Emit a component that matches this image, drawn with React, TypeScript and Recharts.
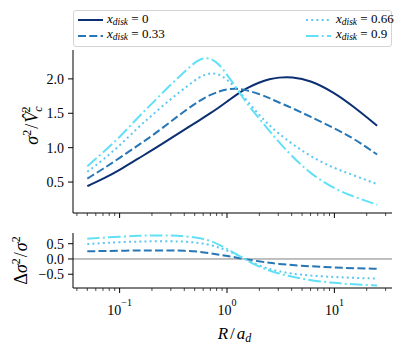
import React from "react";
import { LineChart, Line, XAxis, YAxis, ReferenceLine, Legend, Label } from "recharts";

// radius R/a_d where the curves were read
const R = [0.05, 0.07, 0.1, 0.15, 0.2, 0.3, 0.4, 0.55, 0.7, 0.85, 1.0, 1.25, 1.5, 2, 2.5, 3, 4, 6, 10, 15, 25];

// sigma^2 / Vc^2 for each disk fraction
const sigmaX0 = [0.44, 0.545, 0.675, 0.845, 0.96, 1.135, 1.26, 1.395, 1.5, 1.59, 1.67, 1.78, 1.86, 1.95, 2.0, 2.02, 2.03, 1.98, 1.8, 1.6, 1.32];
const sigmaX033 = [0.55, 0.69, 0.85, 1.04, 1.17, 1.38, 1.53, 1.68, 1.77, 1.82, 1.85, 1.86, 1.84, 1.78, 1.72, 1.66, 1.58, 1.45, 1.28, 1.14, 0.9];
const sigmaX066 = [0.65, 0.82, 1.03, 1.3, 1.47, 1.71, 1.86, 2.03, 2.09, 2.07, 1.99, 1.85, 1.7, 1.47, 1.32, 1.21, 1.06, 0.87, 0.7, 0.6, 0.47];
const sigmaX09 = [0.73, 0.93, 1.15, 1.45, 1.64, 1.92, 2.1, 2.3, 2.31, 2.21, 2.06, 1.85, 1.66, 1.42, 1.24, 1.09, 0.88, 0.62, 0.4, 0.29, 0.17];

// relative difference to x_disk = 0
const deltaX033 = [0.25, 0.26, 0.27, 0.28, 0.28, 0.28, 0.27, 0.24, 0.19, 0.14, 0.1, 0.04, -0.01, -0.08, -0.13, -0.16, -0.2, -0.24, -0.28, -0.3, -0.32];
const deltaX066 = [0.49, 0.52, 0.55, 0.57, 0.58, 0.58, 0.57, 0.53, 0.46, 0.37, 0.28, 0.13, 0.0, -0.23, -0.33, -0.4, -0.48, -0.55, -0.59, -0.62, -0.64];
const deltaX09 = [0.66, 0.7, 0.73, 0.76, 0.77, 0.77, 0.75, 0.69, 0.6, 0.46, 0.33, 0.14, -0.03, -0.26, -0.38, -0.47, -0.58, -0.7, -0.79, -0.83, -0.87];

const X_TICKS = [0.04, 0.05, 0.06, 0.07, 0.08, 0.09, 0.1, 0.2, 0.3, 0.4, 0.5, 0.6, 0.7, 0.8, 0.9, 1, 2, 3, 4, 5, 6, 7, 8, 9, 10, 20, 30];
const MAJOR_TICKS = [0.1, 1, 10];
const EXPONENTS = ["\u22121", "0", "1"];
const TOP_Y_TICKS = [0.5, 1.0, 1.5, 2.0];
const BOTTOM_Y_TICKS = [-0.5, 0.0, 0.5];
const LEGEND_VALUES = ["0", "0.33", "0.66", "0.9"];

const X_DOMAIN = [0.0368, 34.4];
const FONT = "Liberation Serif, DejaVu Serif, serif";

const SERIES = [
  { key: "x0", color: "#0b2f72", dash: undefined },
  { key: "x033", color: "#2776b5", dash: "8 3.3" },
  { key: "x066", color: "#5cc7f1", dash: "2 3.2" },
  { key: "x09", color: "#62e0f6", dash: "12.5 3.2 2 3.2" },
];

const topData = R.map((r, i) => ({
  r,
  x0: sigmaX0[i],
  x033: sigmaX033[i],
  x066: sigmaX066[i],
  x09: sigmaX09[i],
}));

const bottomData = R.map((r, i) => ({
  r,
  x033: deltaX033[i],
  x066: deltaX066[i],
  x09: deltaX09[i],
}));

const fmt = (v: number) => v.toFixed(1).replace("-", "\u2212");

function XTick(props: any) {
  const { x, y, payload, showLabel } = props;
  const idx = MAJOR_TICKS.indexOf(payload.value);
  const major = idx >= 0;
  return (
    <g>
      <line x1={x} x2={x} y1={y} y2={y + (major ? 5 : 3)} stroke="#000" strokeWidth={major ? 1 : 0.7} />
      {showLabel && major && (
        <text x={x} y={y + 27} textAnchor="middle" fontSize={14} fontFamily={FONT} fill="#000">
          10
          <tspan dy={-9} fontSize={10}>{EXPONENTS[idx]}</tspan>
        </text>
      )}
    </g>
  );
}

function YTick(props: any) {
  const { x, y, payload } = props;
  return (
    <g>
      <line x1={x - 5} x2={x} y1={y} y2={y} stroke="#000" strokeWidth={1} />
      <text x={x - 9} y={y} dy="0.35em" textAnchor="end" fontSize={14} fontFamily={FONT} fill="#000">
        {fmt(payload.value)}
      </text>
    </g>
  );
}

function LegendBox() {
  return (
    <div
      style={{
        width: 319,
        height: 37,
        boxSizing: "border-box",
        border: "1px solid #d4d4d4",
        borderRadius: 3,
        background: "rgba(255,255,255,0.85)",
        position: "relative",
        fontFamily: FONT,
        fontSize: 13,
        color: "#000",
      }}
    >
      {SERIES.map((s, i) => {
        const col = Math.floor(i / 2);
        const row = i % 2;
        const left = col === 0 ? 4 : 232;
        const top = row === 0 ? 9 : 24.5;
        return (
          <div key={s.key} style={{ position: "absolute", left, top: top - 8, height: 16, display: "flex", alignItems: "center" }}>
            <svg width={25} height={16}>
              <line x1={0} x2={25} y1={8} y2={8} stroke={s.color} strokeWidth={2} strokeDasharray={s.dash} />
            </svg>
            <span style={{ marginLeft: col === 0 ? 4 : 5, whiteSpace: "nowrap", lineHeight: "16px" }}>
              <i>x</i>
              <sub style={{ fontSize: 9.5, fontStyle: "italic", verticalAlign: "-2px" }}>disk</sub>
              {" = "}
              {LEGEND_VALUES[i]}
            </span>
          </div>
        );
      })}
    </div>
  );
}

export default function App() {
  return (
    <div style={{ position: "absolute", left: 0, top: 0, width: 407, height: 350, background: "#fff" }}>
      <div style={{ position: "absolute", left: 0, top: 0 }}>
        <LineChart width={407} height={235} data={topData} margin={{ top: 50, right: 15, bottom: 2, left: 0 }}>
          <XAxis
            dataKey="r"
            type="number"
            scale="log"
            domain={X_DOMAIN}
            allowDataOverflow
            ticks={X_TICKS}
            interval={0}
            tickSize={0}
            tickMargin={0}
            tickLine={false}
            height={20}
            axisLine={{ stroke: "#000", strokeWidth: 1 }}
            tick={<XTick showLabel={false} />}
          />
          <XAxis
            xAxisId="top"
            orientation="top"
            dataKey="r"
            type="number"
            scale="log"
            domain={X_DOMAIN}
            allowDataOverflow
            height={0}
            tick={false}
            tickLine={false}
            axisLine={{ stroke: "#000", strokeWidth: 1 }}
          />
          <YAxis
            type="number"
            domain={[0.05, 2.42]}
            allowDataOverflow
            ticks={TOP_Y_TICKS}
            interval={0}
            width={73}
            tickSize={0}
            tickMargin={0}
            tickLine={false}
            axisLine={{ stroke: "#000", strokeWidth: 1 }}
            tick={<YTick />}
          >
            <Label
              content={(p: any) => {
                const vb = p.viewBox;
                const cx = 38;
                const cy = vb.y + vb.height / 2 - 6;
                return (
                  <text transform={`rotate(-90, ${cx}, ${cy})`} x={cx} y={cy} textAnchor="middle" fontSize={18} fontFamily={FONT} fill="#000">
                    <tspan fontStyle="italic">σ</tspan>
                    <tspan dy={-7} fontSize={12}>2</tspan>
                    <tspan dy={7} dx={1}>/</tspan>
                    <tspan dx={1} fontStyle="italic">V̂</tspan>
                    <tspan dy={4} fontSize={12} fontStyle="italic">c</tspan>
                    <tspan dx={-6} dy={-12} fontSize={12}>2</tspan>
                  </text>
                );
              }}
            />
          </YAxis>
          <YAxis
            yAxisId="right"
            orientation="right"
            width={0}
            tick={false}
            tickLine={false}
            axisLine={{ stroke: "#000", strokeWidth: 1 }}
          />
          <Legend
            layout="horizontal"
            verticalAlign="middle"
            align="center"
            wrapperStyle={{ left: 73, top: 10, width: 319, height: 37 }}
            content={() => <LegendBox />}
          />
          {SERIES.map((s) => (
            <Line
              key={s.key}
              dataKey={s.key}
              type="basis"
              stroke={s.color}
              strokeWidth={2}
              strokeDasharray={s.dash}
              dot={false}
              isAnimationActive={false}
            />
          ))}
        </LineChart>
      </div>
      <div style={{ position: "absolute", left: 0, top: 225 }}>
        <LineChart width={407} height={125} data={bottomData} margin={{ top: 8, right: 15, bottom: 0, left: 0 }}>
          <XAxis
            dataKey="r"
            type="number"
            scale="log"
            domain={X_DOMAIN}
            allowDataOverflow
            ticks={X_TICKS}
            interval={0}
            tickSize={0}
            tickMargin={0}
            tickLine={false}
            height={62}
            axisLine={{ stroke: "#000", strokeWidth: 1 }}
            tick={<XTick showLabel />}
          >
            <Label
              content={(p: any) => {
                const vb = p.viewBox;
                return (
                  <text x={vb.x + vb.width / 2 + 2} y={vb.y + 51} textAnchor="middle" fontSize={17} fontFamily={FONT} fill="#000">
                    <tspan fontStyle="italic">R</tspan>
                    <tspan dx={2}>/</tspan>
                    <tspan dx={2} fontStyle="italic">a</tspan>
                    <tspan dy={3} fontSize={12} fontStyle="italic">d</tspan>
                  </text>
                );
              }}
            />
          </XAxis>
          <XAxis
            xAxisId="top"
            orientation="top"
            dataKey="r"
            type="number"
            scale="log"
            domain={X_DOMAIN}
            allowDataOverflow
            height={0}
            tick={false}
            tickLine={false}
            axisLine={{ stroke: "#000", strokeWidth: 1 }}
          />
          <YAxis
            type="number"
            domain={[-0.95, 0.85]}
            allowDataOverflow
            ticks={BOTTOM_Y_TICKS}
            interval={0}
            width={73}
            tickSize={0}
            tickMargin={0}
            tickLine={false}
            axisLine={{ stroke: "#000", strokeWidth: 1 }}
            tick={<YTick />}
          >
            <Label
              content={(p: any) => {
                const vb = p.viewBox;
                const cx = 27;
                const cy = vb.y + vb.height / 2;
                return (
                  <text transform={`rotate(-90, ${cx}, ${cy})`} x={cx} y={cy} textAnchor="middle" fontSize={18} fontFamily={FONT} fill="#000">
                    <tspan>Δ</tspan>
                    <tspan fontStyle="italic">σ</tspan>
                    <tspan dy={-7} fontSize={12}>2</tspan>
                    <tspan dy={7} dx={1}>/</tspan>
                    <tspan dx={1} fontStyle="italic">σ</tspan>
                    <tspan dy={-7} fontSize={12}>2</tspan>
                  </text>
                );
              }}
            />
          </YAxis>
          <YAxis
            yAxisId="right"
            orientation="right"
            width={0}
            tick={false}
            tickLine={false}
            axisLine={{ stroke: "#000", strokeWidth: 1 }}
          />
          <ReferenceLine y={0} stroke="#808080" strokeWidth={1} />
          {SERIES.slice(1).map((s) => (
            <Line
              key={s.key}
              dataKey={s.key}
              type="basis"
              stroke={s.color}
              strokeWidth={2}
              strokeDasharray={s.dash}
              dot={false}
              isAnimationActive={false}
            />
          ))}
        </LineChart>
      </div>
    </div>
  );
}
